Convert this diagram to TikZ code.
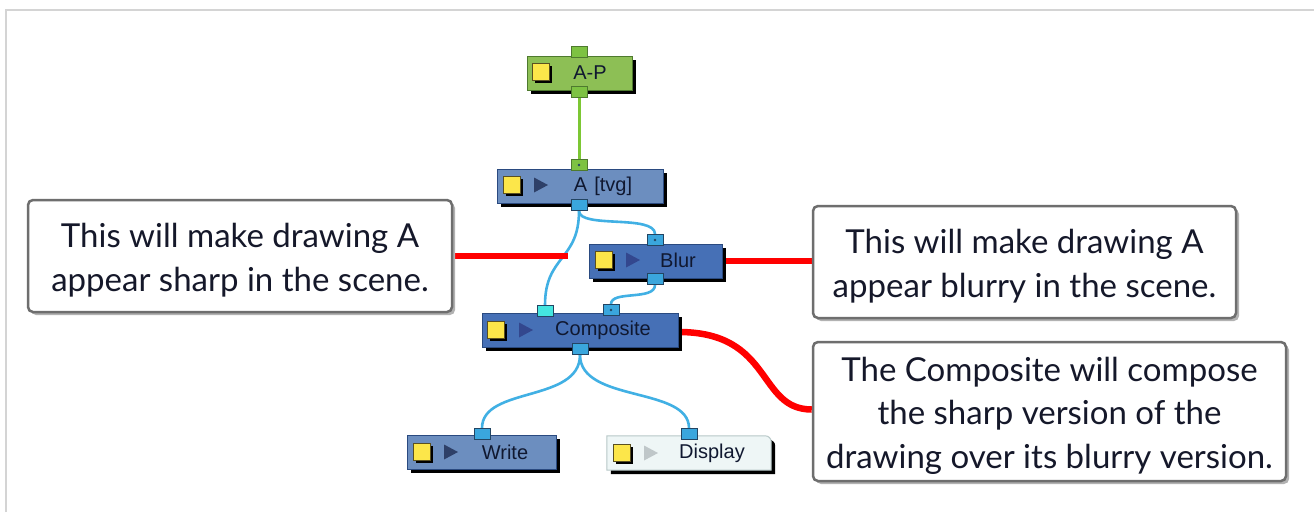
\documentclass[tikz,border=0pt]{standalone}
\usepackage{fontspec}
\setmainfont{Lato}
\newfontfamily\nodefont{Liberation Sans}
\usetikzlibrary{backgrounds,shadows}
\definecolor{gfill}{HTML}{8DBF55}
\definecolor{gbord}{HTML}{4E7A2E}
\definecolor{gport}{HTML}{7DC242}
\definecolor{gline}{HTML}{7CC734}
\definecolor{lbfill}{HTML}{6C8EBF}
\definecolor{dbfill}{HTML}{4670B6}
\definecolor{bbord}{HTML}{2A4A80}
\definecolor{dispfill}{HTML}{EEF6F6}
\definecolor{dispbord}{HTML}{B8C8C8}
\definecolor{pblue}{HTML}{3AA6DD}
\definecolor{pbord}{HTML}{234563}
\definecolor{pcyan}{HTML}{44E6E0}
\definecolor{bline}{HTML}{41B0E4}
\definecolor{yel}{HTML}{FCE64A}
\definecolor{ybord}{HTML}{5A5020}
\definecolor{trilight}{HTML}{2E4068}
\definecolor{tridark}{HTML}{33478E}
\definecolor{trigrey}{HTML}{BFC7C9}
\definecolor{ntext}{HTML}{101830}
\definecolor{cbord}{HTML}{6E6E6E}
\definecolor{ctext}{HTML}{15182A}
\definecolor{framec}{HTML}{D4D4D4}
\newcommand{\firststrut}{\rule{0pt}{33pt}}
\begin{document}
\begin{tikzpicture}[x=1pt,y=-1pt,
  blackshadow/.style={drop shadow={shadow xshift=4pt, shadow yshift=-4pt, fill=black, fill opacity=1, draw=none}},
  modnode/.style={line width=1pt, minimum height=34pt, inner sep=0pt, blackshadow},
  greennode/.style={modnode, draw=gbord, fill=gfill},
  lightnode/.style={modnode, draw=bbord, fill=lbfill},
  darknode/.style={modnode, draw=bbord, fill=dbfill},
  port/.style={draw=pbord, fill=pblue, line width=0.8pt, minimum width=16pt, minimum height=11pt, inner sep=0pt},
  gportst/.style={port, draw=gbord, fill=gport},
  dotted port/.style={path picture={\fill[pbord] (path picture bounding box.center) circle (1.3pt);}},
  ysq/.style={draw=ybord, fill=yel, line width=0.6pt, minimum size=17pt, inner sep=0pt,
    drop shadow={shadow xshift=2pt, shadow yshift=-2pt, fill=black, fill opacity=1, draw=none}},
  lbl/.style={font=\nodefont\fontsize{20}{24}\selectfont, text=ntext, inner sep=0pt},
  callout/.style={draw=cbord, line width=2.5pt, rounded corners=5pt, fill=white, align=center,
    inner sep=0pt, font=\fontsize{33}{43.5}\selectfont, text=ctext,
    drop shadow={shadow xshift=3pt, shadow yshift=-3pt, fill=black!30, fill opacity=1, draw=none}},
  bconn/.style={draw=bline, line width=2.6pt},
  rconn/.style={draw=red, line width=6.5pt}
]
\useasboundingbox (0,0) rectangle (1314,512);
\draw[framec, line width=2pt] (6,512) -- (6,10) -- (1314,10);

% module nodes
\node[greennode, minimum width=105pt] (AP) at (579.5,73) {};
\node[lightnode, minimum width=166pt] (Atvg) at (580,186) {};
\node[darknode, minimum width=133pt] (Blur) at (655.5,261) {};
\node[darknode, minimum width=196pt] (Comp) at (580,330) {};
\node[lightnode, minimum width=149pt] (Write) at (481.5,452) {};
% Display node (rounded top-right corner)
\node[minimum width=164pt, minimum height=34pt, inner sep=0pt] (Disp) at (689,453) {};
\path[fill=black, transform canvas={shift={(4pt,-4pt)}}]
  (Disp.south west) -- (Disp.north west) -- ([xshift=-6pt]Disp.north east)
  arc[start angle=90, end angle=0, radius=6pt] -- (Disp.south east) -- cycle;
\path[fill=dispfill, draw=dispbord, line width=1pt]
  (Disp.south west) -- (Disp.north west) -- ([xshift=-6pt]Disp.north east)
  arc[start angle=90, end angle=0, radius=6pt] -- (Disp.south east) -- cycle;

% ports
\node[gportst] (APt) at (579,52) {};
\node[gportst] (APb) at (579,92) {};
\node[gportst, dotted port] (At) at (579,165) {};
\node[port] (Ab) at (579,205) {};
\node[port, dotted port] (Bt) at (655,240) {};
\node[port] (Bb) at (655,279) {};
\node[port, fill=pcyan] (Ctl) at (545,311) {};
\node[port, dotted port] (Ctr) at (611,310) {};
\node[port] (Cb) at (580,349) {};
\node[port] (Wt) at (482,434) {};
\node[port] (Dt) at (689,434) {};

% yellow squares
\node[ysq] (yAP) at (541,72) {};
\node[ysq] (yA) at (512,185) {};
\node[ysq] (yB) at (604,260) {};
\node[ysq] (yC) at (496,330) {};
\node[ysq] (yW) at (422,452) {};
\node[ysq] (yD) at (622,453) {};

% triangles
\coordinate (tA) at (540,185);
\coordinate (tB) at (632,260);
\coordinate (tC) at (525,330);
\coordinate (tW) at (450,452);
\coordinate (tD) at (650,453);
\foreach \c/\col in {tA/trilight, tB/tridark, tC/tridark, tW/trilight, tD/trigrey}{
  \fill[\col] ([shift={(-6pt,-7.5pt)}]\c) -- ([shift={(-6pt,7.5pt)}]\c) -- ([shift={(8pt,0pt)}]\c) -- cycle;
}

% labels
\node[lbl] (lAP) at (590,73) {A-P};
\node[lbl] (lA) at (603,186) {A\hspace{7pt}[tvg]};
\node[lbl] (lB) at (678,260) {Blur};
\node[lbl] (lC) at (603,330) {Composite};
\node[lbl] (lW) at (505,452) {Write};
\node[lbl] (lD) at (712,453) {Display};

% callouts
\node[callout, minimum width=424pt, minimum height=112pt] (c1) at (240,256)
  {\firststrut This will make drawing A\\appear sharp in the scene.};
\node[callout, minimum width=423pt, minimum height=112pt] (c2) at (1024.5,262)
  {\firststrut This will make drawing A\\appear blurry in the scene.};
\node[callout, minimum width=473pt, minimum height=139pt] (c3) at (1049.5,411.5)
  {\firststrut The Composite will compose\\the sharp version of the\\drawing over its blurry version.};
\coordinate (redend) at (568,256);

\begin{scope}[on background layer]
  \fill[white] (0,0) rectangle (1314,512);
  \draw[gline, line width=3pt] (APb.south) -- (At.north);
  \draw[bconn] (Ab.south) .. controls +(0,50) and +(0,-50) .. (Ctl.north);
  \draw[bconn] (Ab.south) .. controls +(0,18) and +(0,-20) .. (Bt.north);
  \draw[bconn] (Bb.south) .. controls +(0,16) and +(0,-14) .. (Ctr.north);
  \draw[bconn] (Cb.south) .. controls +(0,48) and +(0,-42) .. (Wt.north);
  \draw[bconn] (Cb.south) .. controls +(0,48) and +(0,-42) .. (Dt.north);
  \draw[rconn] (c1.east) -- (redend);
  \draw[rconn] (Blur.east) -- (Blur.east -| c2.west);
  \draw[rconn] ([yshift=-2pt]Comp.east) .. controls +(95,0) and +(-55,0) .. ([yshift=2pt]c3.west);
\end{scope}
\end{tikzpicture}
\end{document}
